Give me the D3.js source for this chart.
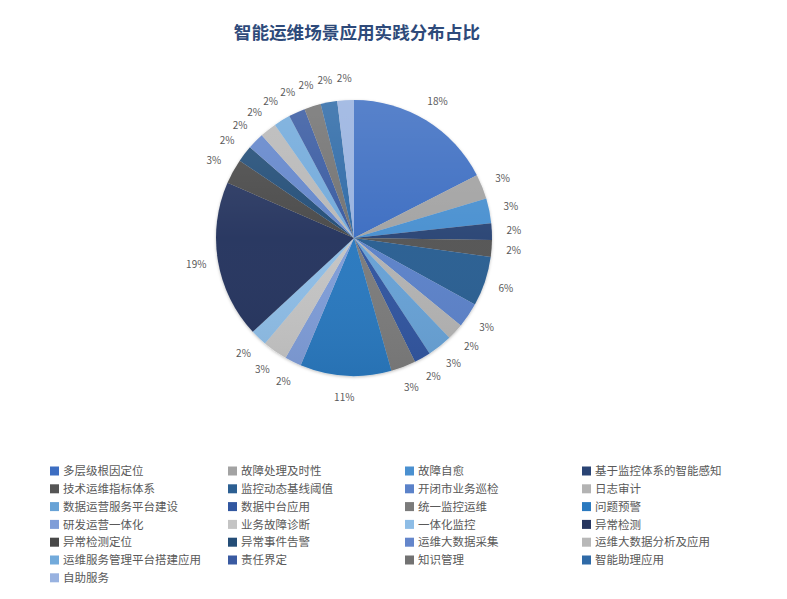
<!DOCTYPE html>
<html lang="zh">
<head>
<meta charset="utf-8">
<title>智能运维场景应用实践分布占比</title>
<script src="https://d3js.org/d3.v7.min.js"></script>
<style>
  body { margin: 0; background: #fff; }
  text { font-family: "Noto Sans CJK SC", "Noto Sans", sans-serif; }
</style>
</head>
<body>
<script>
// categories, in legend order (also drawing order, clockwise from 12 o'clock)
var categories = [
  "多层级根因定位", "故障处理及时性", "故障自愈", "基于监控体系的智能感知",
  "技术运维指标体系", "监控动态基线阈值", "开闭市业务巡检", "日志审计",
  "数据运营服务平台建设", "数据中台应用", "统一监控运维", "问题预警",
  "研发运营一体化", "业务故障诊断", "一体化监控", "异常检测",
  "异常检测定位", "异常事件告警", "运维大数据采集", "运维大数据分析及应用",
  "运维服务管理平台搭建应用", "责任界定", "知识管理", "智能助理应用",
  "自助服务"
];
// share in percent as printed on the chart
var shares = [18, 3, 3, 2, 2, 6, 3, 2, 3, 2, 3, 11, 2, 3, 2, 19, 3, 2, 2, 2, 2, 2, 2, 2, 2];
var colors = [
  "#3d6ec2", "#a3a3a3", "#4a90d0", "#2a4474",
  "#555555", "#2c5f92", "#5b82c9", "#b3b3b3",
  "#67a2d6", "#3157a0", "#7b7b7b", "#2a79bf",
  "#7f9dd8", "#c4c4c4", "#8ebde6", "#27365f",
  "#484848", "#244d77", "#6486cb", "#b8b8b8",
  "#72aadb", "#395aa1", "#727272", "#2f6aa7",
  "#98b2e0"
];

var width = 787, height = 599;
var cx = 354, cy = 238, radius = 138, labelRadius = 160;

var svg = d3.select("body").append("svg")
  .attr("width", width)
  .attr("height", height);

var defs = svg.append("defs");
var shade = defs.append("linearGradient")
  .attr("id", "shade")
  .attr("x1", 0).attr("y1", 0).attr("x2", 0).attr("y2", 1);
shade.append("stop").attr("offset", "0%").attr("stop-color", "#fff").attr("stop-opacity", 0.14);
shade.append("stop").attr("offset", "50%").attr("stop-color", "#fff").attr("stop-opacity", 0.02);
shade.append("stop").attr("offset", "100%").attr("stop-color", "#000").attr("stop-opacity", 0.06);

var shadow = defs.append("filter").attr("id", "shadow")
  .attr("x", "-10%").attr("y", "-10%").attr("width", "120%").attr("height", "120%");
shadow.append("feDropShadow")
  .attr("dx", 0).attr("dy", 1).attr("stdDeviation", 1.5)
  .attr("flood-color", "#000").attr("flood-opacity", 0.25);

// title
svg.append("text")
  .attr("x", 357)
  .attr("y", 39)
  .attr("text-anchor", "middle")
  .attr("font-size", 17.6)
  .attr("font-weight", "bold")
  .attr("fill", "#2e4a7a")
  .text("智能运维场景应用实践分布占比");

var data = categories.map(function (c, i) {
  return { name: c, value: shares[i], color: colors[i] };
});

var pie = d3.pie().sort(null).value(function (d) { return d.value; });
var arcs = pie(data);
var arc = d3.arc().innerRadius(0).outerRadius(radius);
var labelArc = d3.arc().innerRadius(labelRadius).outerRadius(labelRadius);

var g = svg.append("g").attr("transform", "translate(" + cx + "," + cy + ")");

g.append("g").attr("filter", "url(#shadow)")
  .selectAll("path")
  .data(arcs)
  .enter()
  .append("path")
  .attr("d", arc)
  .attr("fill", function (d) { return d.data.color; });

g.append("circle")
  .attr("r", radius)
  .attr("fill", "url(#shade)")
  .attr("pointer-events", "none");

g.selectAll("text.pct")
  .data(arcs)
  .enter()
  .append("text")
  .attr("class", "pct")
  .attr("transform", function (d) { return "translate(" + labelArc.centroid(d) + ")"; })
  .attr("text-anchor", "middle")
  .attr("dy", "0.35em")
  .attr("font-size", 10)
  .attr("fill", "#595959")
  .text(function (d) { return d.data.value + "%"; });

// legend, 4 columns
var colX = [50, 228, 405, 582];
var rowY0 = 471, rowH = 17.8;

var legend = svg.append("g")
  .selectAll("g")
  .data(data)
  .enter()
  .append("g")
  .attr("transform", function (d, i) {
    return "translate(" + colX[i % 4] + "," + (rowY0 + Math.floor(i / 4) * rowH) + ")";
  });

legend.append("rect")
  .attr("x", 0).attr("y", -4.5)
  .attr("width", 9).attr("height", 9)
  .attr("fill", function (d) { return d.color; });

legend.append("text")
  .attr("x", 13)
  .attr("dy", "0.36em")
  .attr("font-size", 11.5)
  .attr("fill", "#595959")
  .text(function (d) { return d.name; });
</script>
</body>
</html>
